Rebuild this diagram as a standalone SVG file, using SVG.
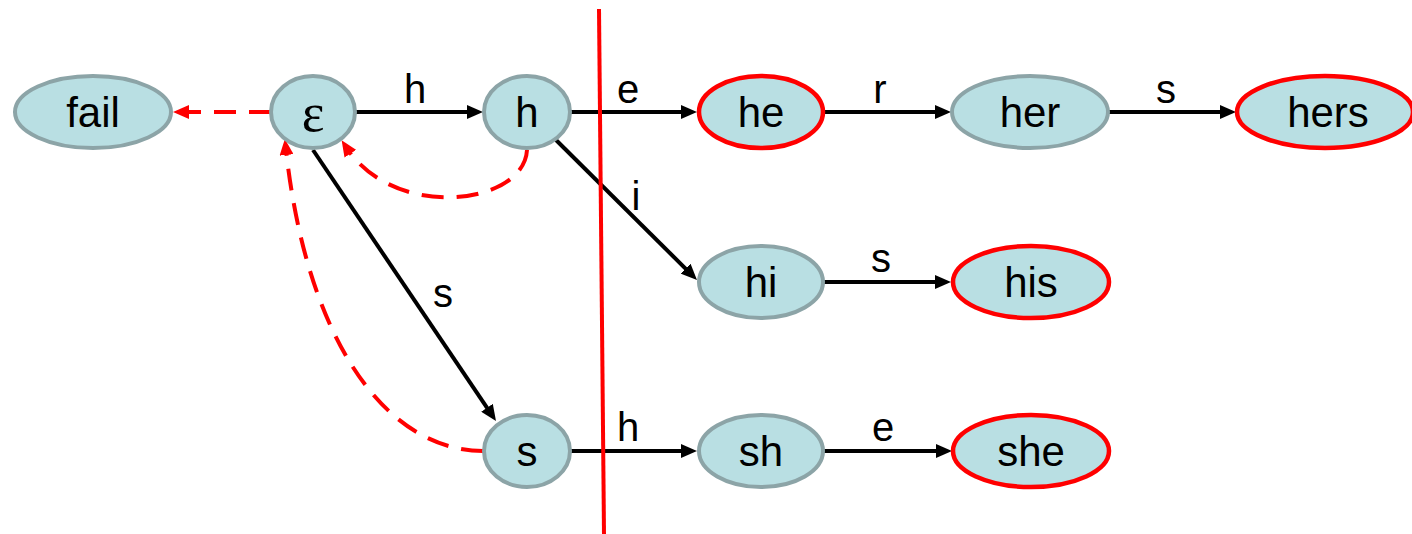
<svg xmlns="http://www.w3.org/2000/svg" width="1412" height="534" viewBox="0 0 1412 534">
<defs>
<style>
.node ellipse{fill:#b9dfe3;stroke:#8ca4a7;stroke-width:4}
.node.final ellipse{stroke:#ff0000;stroke-width:4.5}
.node text{font-family:"Liberation Sans",Arial,sans-serif;font-size:42px;fill:#000;text-anchor:middle}
.node text.eps{font-family:"Liberation Serif","Times New Roman",serif;font-size:54px}
.edge{fill:none;stroke:#000;stroke-width:4;marker-end:url(#ah)}
.fail{fill:none;stroke:#ff0000;stroke-width:4;stroke-dasharray:22 13;marker-end:url(#ahr)}
.lbl{font-family:"Liberation Sans",Arial,sans-serif;font-size:40px;fill:#000;text-anchor:middle}
</style>
<marker id="ah" markerUnits="userSpaceOnUse" markerWidth="16" markerHeight="14" refX="8" refY="7" orient="auto"><path d="M0,0 L16,7 L0,14 z" fill="#000"/></marker>
<marker id="ahr" markerUnits="userSpaceOnUse" markerWidth="16" markerHeight="14" refX="8" refY="7" orient="auto"><path d="M0,0 L16,7 L0,14 z" fill="#ff0000"/></marker>
</defs>
<rect width="1412" height="534" fill="#fff"/>
<g id="connectors">
<path class="fail" d="M271,112 L181,112"/>
<path class="fail" d="M527,150 C524,205 395,222 346,147"/>
<path class="fail" d="M483,451 C380,450 305,330 285.7,147"/>
<path class="edge" d="M355,112 L475,112"/>
<path class="edge" d="M570,112 L689,112"/>
<path class="edge" d="M824,112 L943,112"/>
<path class="edge" d="M1108,112 L1228,112"/>
<path class="edge" d="M556,140 L691.3,274.3"/>
<path class="edge" d="M313,150 L491.5,414.4"/>
<path class="edge" d="M824,282 L943,282"/>
<path class="edge" d="M570,451 L689,451"/>
<path class="edge" d="M824,451 L944,451"/>
<text class="lbl" x="415" y="103">h</text>
<text class="lbl" x="628" y="103">e</text>
<text class="lbl" x="880" y="103">r</text>
<text class="lbl" x="1166" y="103">s</text>
<text class="lbl" x="636" y="210">i</text>
<text class="lbl" x="881" y="272">s</text>
<text class="lbl" x="443" y="307">s</text>
<text class="lbl" x="628" y="441">h</text>
<text class="lbl" x="883" y="441">e</text>
</g>
<g id="node-fail" class="node"><ellipse cx="93" cy="112" rx="78" ry="36"/><text x="93" y="127">fail</text></g>
<g id="node-eps" class="node"><ellipse cx="313" cy="112" rx="42" ry="36"/><text class="eps" x="313" y="131">ε</text></g>
<g id="node-h" class="node"><ellipse cx="527" cy="112" rx="43" ry="36"/><text x="527" y="127">h</text></g>
<g id="node-he" class="node final"><ellipse cx="761" cy="112" rx="62" ry="36"/><text x="761" y="127">he</text></g>
<g id="node-her" class="node"><ellipse cx="1030" cy="112" rx="78" ry="36"/><text x="1030" y="127">her</text></g>
<g id="node-hers" class="node final"><ellipse cx="1325" cy="112" rx="88" ry="36"/><text x="1328" y="127">hers</text></g>
<g id="node-hi" class="node"><ellipse cx="761" cy="282" rx="62" ry="36"/><text x="761" y="297">hi</text></g>
<g id="node-his" class="node final"><ellipse cx="1031" cy="282" rx="78" ry="36"/><text x="1031" y="297">his</text></g>
<g id="node-s" class="node"><ellipse cx="527" cy="451" rx="43" ry="36"/><text x="527" y="466">s</text></g>
<g id="node-sh" class="node"><ellipse cx="761" cy="451" rx="62" ry="36"/><text x="761" y="466">sh</text></g>
<g id="node-she" class="node final"><ellipse cx="1031" cy="451" rx="78" ry="36"/><text x="1031" y="466">she</text></g>
<g id="divider"><path d="M599,9 L604,534" stroke="#ff0000" stroke-width="4" fill="none"/></g>
</svg>
